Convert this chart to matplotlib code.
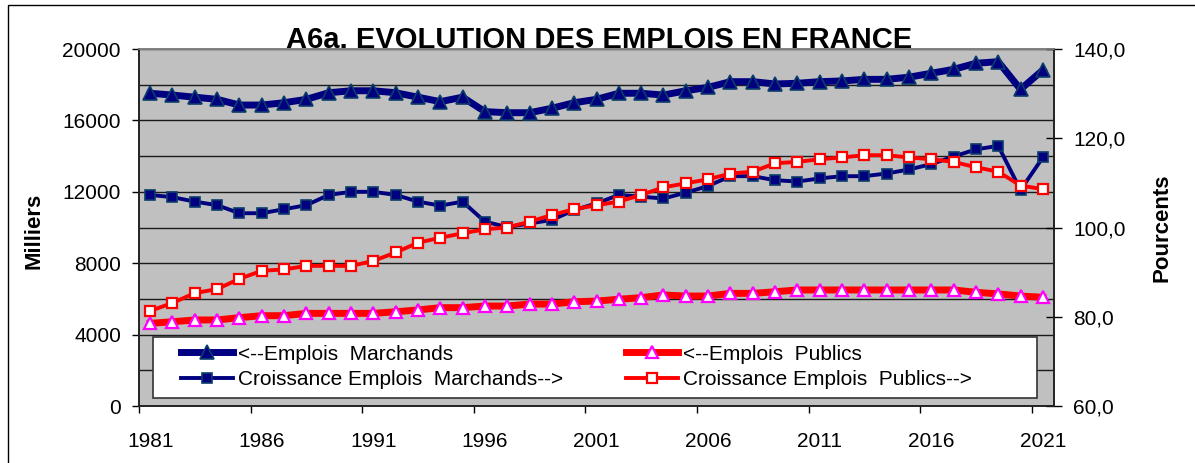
import matplotlib
matplotlib.use("Agg")
import matplotlib.pyplot as plt
from matplotlib.ticker import MultipleLocator, FuncFormatter
from matplotlib.patches import Rectangle

plt.rcParams['font.family'] = ['Liberation Sans', 'DejaVu Sans']

years = list(range(1981, 2022))
label_years = [1981, 1986, 1991, 1996, 2001, 2006, 2011, 2016, 2021]

# milliers (axe de gauche)
emplois_marchands = [17520, 17420, 17300, 17180, 16860, 16860, 16990, 17180, 17550, 17660,
                     17660, 17550, 17300, 17050, 17300, 16490, 16430, 16430, 16680, 16990,
                     17180, 17520, 17520, 17420, 17660, 17850, 18170, 18170, 18040, 18080,
                     18170, 18210, 18300, 18300, 18420, 18640, 18860, 19200, 19290, 17740,
                     18820]
emplois_publics = [4630, 4720, 4820, 4820, 4950, 5060, 5060, 5190, 5190, 5190,
                   5190, 5280, 5380, 5510, 5510, 5600, 5600, 5710, 5710, 5840,
                   5880, 5980, 6070, 6220, 6160, 6160, 6310, 6310, 6400, 6500,
                   6500, 6500, 6500, 6500, 6500, 6500, 6500, 6370, 6280, 6160,
                   6090]

# pourcents (axe de droite)
croissance_marchands = [107.3, 106.8, 105.8, 105.0, 103.2, 103.2, 104.1, 105.0, 107.3, 108.0,
                        108.0, 107.3, 105.8, 104.9, 105.8, 101.3, 100.1, 100.9, 101.7, 103.9,
                        105.4, 107.3, 106.9, 106.5, 107.8, 109.3, 111.5, 111.5, 110.6, 110.3,
                        111.0, 111.5, 111.5, 112.1, 113.0, 114.2, 115.9, 117.5, 118.3, 108.4,
                        115.7]
croissance_publics = [81.3, 83.1, 85.3, 86.2, 88.5, 90.3, 90.6, 91.4, 91.4, 91.4,
                      92.5, 94.4, 96.6, 97.7, 98.7, 99.6, 100.0, 101.3, 102.8, 104.1,
                      105.0, 105.8, 107.3, 109.0, 109.9, 110.8, 112.1, 112.5, 114.4, 114.7,
                      115.3, 115.7, 116.2, 116.2, 115.7, 115.3, 114.7, 113.5, 112.5, 109.4,
                      108.6]

W, H = 1195, 463
fig = plt.figure(figsize=(W / 100, H / 100), dpi=100)
ax = fig.add_axes([139 / W, 57 / H, 915 / W, 357 / H])
ax2 = ax.twinx()

ax.set_facecolor('#c0c0c0')
ax.set_axisbelow(True)

l1, = ax.plot(years, emplois_marchands, color='#000080', lw=5, marker='^', ms=10,
              mfc='#000080', mec='#0b3d6b', mew=1.2, zorder=3)
l2, = ax.plot(years, emplois_publics, color='#ff0000', lw=5, marker='^', ms=9,
              mfc='white', mec='#ff00ff', mew=1.6, zorder=3)
l3, = ax2.plot(years, croissance_marchands, color='#000080', lw=2.8, marker='s', ms=7.5,
               mfc='#000080', mec='#0b3d6b', mew=1.2, zorder=3)
l4, = ax2.plot(years, croissance_publics, color='#ff0000', lw=2.8, marker='s', ms=7,
               mfc='white', mec='#ff0000', mew=1.6, zorder=4)

# axe des x : graduations entre les catégories
ax.set_xlim(years[0] - 0.5, years[-1] + 0.5)
ax.set_xticks([y - 0.5 for y in label_years])
ax.set_xticklabels([])
ax.set_xticks(label_years, minor=True)
ax.set_xticklabels([str(y) for y in label_years], minor=True)
ax.tick_params(axis='x', which='major', direction='out', length=5, width=1)
ax.tick_params(axis='x', which='minor', length=0, pad=19, labelsize=15)

ax.set_ylim(0, 20000)
ax.yaxis.set_major_locator(MultipleLocator(4000))
ax.yaxis.set_minor_locator(MultipleLocator(2000))
ax.tick_params(axis='y', which='major', direction='out', length=5, width=1, pad=8, labelsize=15)
ax.tick_params(axis='y', which='minor', length=0)
ax.grid(axis='y', which='both', color='#1a1a1a', lw=1)

ax2.set_ylim(60, 140)
ax2.yaxis.set_major_locator(MultipleLocator(20))
ax2.yaxis.set_major_formatter(FuncFormatter(lambda v, p: f"{v:.1f}".replace('.', ',')))
ax2.tick_params(axis='y', direction='inout', length=12, width=1, pad=8, labelsize=15)

for a in (ax, ax2):
    for s in ('left', 'bottom', 'right'):
        a.spines[s].set_color('#222222')
        a.spines[s].set_linewidth(1.2)
    a.spines['top'].set_color('#808080')
    a.spines['top'].set_linewidth(1.2)

ax.set_ylabel('Milliers', fontsize=16, fontweight='bold')
ax2.set_ylabel('Pourcents', fontsize=16, fontweight='bold')
ax.yaxis.set_label_coords(-0.103, 0.49)
ax2.yaxis.set_label_coords(1.107, 0.50)

fig.text(599 / W, 1 - 48 / H, 'A6a. EVOLUTION DES EMPLOIS EN FRANCE', fontsize=21,
         fontweight='bold', ha='center', va='baseline')

# cadre de la légende
fig.patches.append(Rectangle((153 / W, 1 - 398 / H), 884 / W, 61 / H,
                             transform=fig.transFigure, facecolor='white',
                             edgecolor='#333333', lw=1.2, zorder=5))
fig.legend(handles=[l1, l3, l2, l4],
           labels=['<--Emplois  Marchands', 'Croissance Emplois  Marchands-->',
                   '<--Emplois  Publics', 'Croissance Emplois  Publics-->'],
           ncol=2, loc='upper left', bbox_to_anchor=(166 / W, 1 - 330 / H),
           frameon=False, fontsize=15, handlelength=2.5, handletextpad=0.25,
           columnspacing=3.0, labelspacing=0.3, numpoints=1, borderpad=0.2)

# cadre extérieur
fig.patches.append(Rectangle((8 / W, -0.05), 1.2, 1 - 5 / H + 0.05,
                             transform=fig.transFigure, fill=False,
                             edgecolor='black', lw=1))

fig.savefig('out.png', dpi=100)
